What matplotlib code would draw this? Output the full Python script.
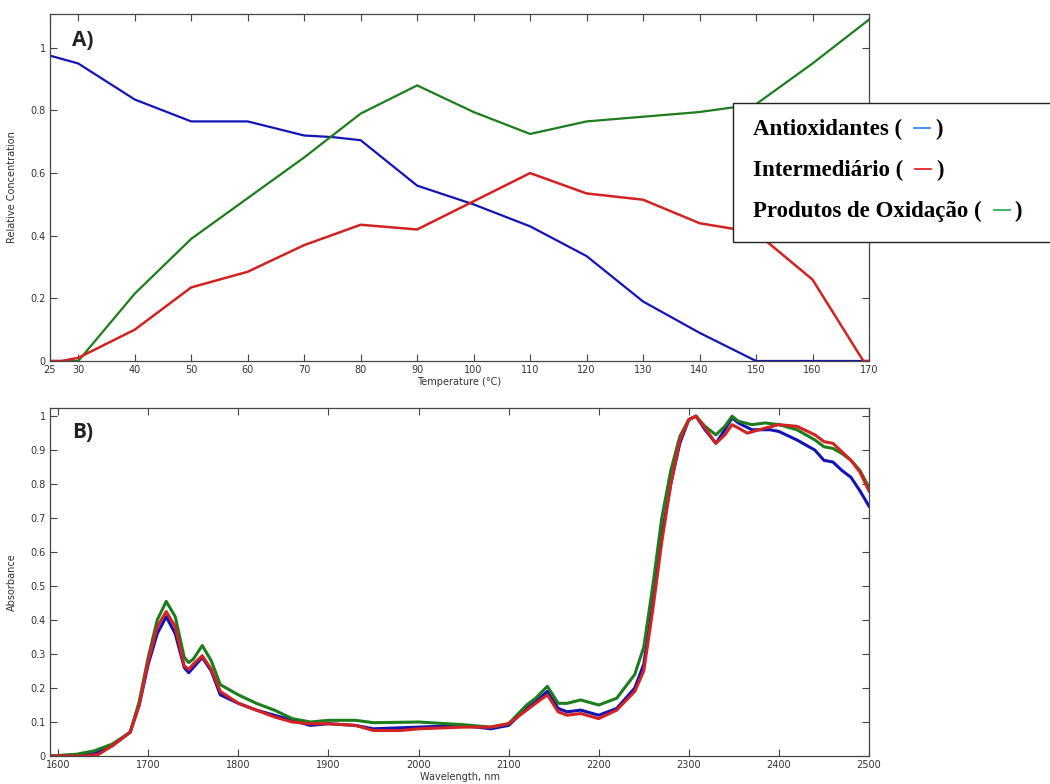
import matplotlib.pyplot as plt
from matplotlib.patches import Rectangle
from matplotlib.lines import Line2D

# painel A - concentracao relativa
temp = [25, 30, 40, 50, 60, 70, 75, 80, 90, 100, 110, 120, 130, 140, 150, 160, 170]
antiox = [0.975, 0.95, 0.835, 0.765, 0.765, 0.72, 0.715, 0.705, 0.56, 0.50, 0.43, 0.335, 0.19, 0.09, 0.0, 0.0, 0.0]
produtos = [0.0, 0.0, 0.215, 0.39, 0.52, 0.65, 0.72, 0.79, 0.88, 0.795, 0.725, 0.765, 0.78, 0.795, 0.82, 0.95, 1.09]
temp_int = [25, 27, 30, 40, 50, 60, 70, 80, 90, 100, 110, 120, 130, 140, 150, 160, 169, 170]
intermed = [0.0, 0.0, 0.01, 0.10, 0.235, 0.285, 0.37, 0.435, 0.42, 0.51, 0.60, 0.535, 0.515, 0.44, 0.41, 0.26, 0.0, 0.0]

# painel B - espectros
wl_b = [1591, 1620, 1640, 1660, 1680, 1690, 1700, 1710, 1720, 1730, 1740, 1745, 1750, 1760, 1770, 1780,
        1800, 1820, 1840, 1860, 1880, 1900, 1930, 1950, 2000, 2050, 2080, 2100, 2120, 2130, 2143, 2155,
        2165, 2180, 2200, 2220, 2240, 2250, 2260, 2270, 2280, 2290, 2300, 2308, 2318, 2330, 2340, 2348,
        2355, 2370, 2390, 2400, 2420, 2440, 2450, 2460, 2470, 2480, 2490, 2500]
abs_blue = [0.0, 0.003, 0.008, 0.03, 0.07, 0.15, 0.27, 0.36, 0.41, 0.36, 0.26, 0.245, 0.26, 0.29, 0.25, 0.18,
            0.155, 0.135, 0.12, 0.105, 0.09, 0.095, 0.09, 0.08, 0.085, 0.09, 0.08, 0.09, 0.14, 0.16, 0.19, 0.14,
            0.13, 0.135, 0.12, 0.14, 0.2, 0.27, 0.45, 0.65, 0.8, 0.92, 0.99, 1.0, 0.96, 0.92, 0.96, 0.995,
            0.98, 0.96, 0.96, 0.955, 0.93, 0.9, 0.87, 0.865, 0.84, 0.82, 0.78, 0.735]
wl_g = [1591, 1620, 1640, 1660, 1680, 1690, 1700, 1710, 1720, 1730, 1740, 1745, 1750, 1760, 1770, 1780,
        1800, 1820, 1840, 1860, 1880, 1900, 1930, 1950, 2000, 2050, 2080, 2100, 2120, 2130, 2143, 2155,
        2165, 2180, 2200, 2220, 2240, 2250, 2260, 2270, 2280, 2290, 2300, 2308, 2318, 2330, 2340, 2348,
        2355, 2370, 2385, 2400, 2420, 2440, 2450, 2460, 2470, 2480, 2490, 2500]
abs_green = [0.0, 0.005, 0.015, 0.035, 0.07, 0.16, 0.29, 0.40, 0.455, 0.41, 0.29, 0.275, 0.285, 0.325, 0.28, 0.21,
             0.18, 0.155, 0.135, 0.11, 0.10, 0.105, 0.105, 0.098, 0.1, 0.092, 0.085, 0.095, 0.15, 0.17, 0.205, 0.155,
             0.155, 0.165, 0.15, 0.17, 0.24, 0.32, 0.5, 0.7, 0.84, 0.94, 0.99, 1.0, 0.97, 0.945, 0.97, 1.0,
             0.985, 0.975, 0.98, 0.975, 0.96, 0.93, 0.91, 0.905, 0.89, 0.87, 0.84, 0.79]
wl_r = [1591, 1630, 1645, 1660, 1680, 1690, 1700, 1710, 1720, 1730, 1740, 1745, 1750, 1760, 1770, 1780,
        1800, 1820, 1840, 1860, 1880, 1900, 1930, 1950, 1980, 2000, 2050, 2080, 2100, 2120, 2130, 2143,
        2155, 2165, 2180, 2200, 2220, 2240, 2250, 2260, 2270, 2280, 2290, 2300, 2308, 2318, 2330, 2340,
        2348, 2355, 2365, 2385, 2400, 2420, 2440, 2450, 2460, 2470, 2480, 2490, 2500]
abs_red = [0.0, 0.0, 0.005, 0.03, 0.07, 0.15, 0.28, 0.38, 0.425, 0.38, 0.265, 0.255, 0.27, 0.295, 0.255, 0.19,
           0.155, 0.135, 0.115, 0.10, 0.095, 0.095, 0.09, 0.075, 0.075, 0.08, 0.085, 0.085, 0.095, 0.135, 0.155, 0.18,
           0.13, 0.12, 0.125, 0.11, 0.135, 0.19, 0.25, 0.43, 0.63, 0.8, 0.93, 0.99, 1.0, 0.965, 0.92, 0.945,
           0.975, 0.965, 0.95, 0.965, 0.975, 0.97, 0.945, 0.925, 0.92, 0.895, 0.87, 0.835, 0.78]

legenda = ["Antioxidantes", "Intermediário", "Produtos de Oxidação"]

AZUL = '#1414b4'
VERDE = '#1c7d1c'
VERMELHO = '#d22222'
TICK_COR = '#333333'

fig = plt.figure(figsize=(10.5, 7.84), dpi=100)
W, H = 1050, 784

def eixo(x0, y0, x1, y1):
    ax = fig.add_axes([x0 / W, 1 - y1 / H, (x1 - x0) / W, (y1 - y0) / H])
    ax.tick_params(direction='in', top=True, right=True, length=5, width=0.8,
                   labelsize=7, labelcolor=TICK_COR, color='#444444', pad=3)
    for s in ax.spines.values():
        s.set_color('#444444')
        s.set_linewidth(0.9)
    return ax

# A)
ax1 = eixo(50, 14, 869, 361)
ax1.plot(temp, antiox, color=AZUL, lw=1.6)
ax1.plot(temp, produtos, color=VERDE, lw=1.6)
ax1.plot(temp_int, intermed, color=VERMELHO, lw=1.8)
ax1.set_xlim(25, 170)
ax1.set_ylim(0, 1.108)
ax1.set_xticks([25, 30, 40, 50, 60, 70, 80, 90, 100, 110, 120, 130, 140, 150, 160, 170])
ax1.set_yticks([0, 0.2, 0.4, 0.6, 0.8, 1])
ax1.set_yticklabels(['0', '0.2', '0.4', '0.6', '0.8', '1'])
ax1.set_xlabel('Temperature (°C)', fontsize=7, color=TICK_COR, labelpad=1)
ax1.set_ylabel('Relative Concentration', fontsize=7, color=TICK_COR, labelpad=10)
ax1.text(0.027, 0.955, 'A)', transform=ax1.transAxes, fontsize=15, fontweight='bold',
         color='#222222', va='top', family='Open Sans')

# B)
ax2 = eixo(50, 408, 869, 756)
ax2.plot(wl_b, abs_blue, color=AZUL, lw=2.2)
ax2.plot(wl_g, abs_green, color=VERDE, lw=2.2)
ax2.plot(wl_r, abs_red, color=VERMELHO, lw=2.2)
ax2.set_xlim(1591, 2500)
ax2.set_ylim(0, 1.024)
ax2.set_xticks([1600, 1700, 1800, 1900, 2000, 2100, 2200, 2300, 2400, 2500])
ax2.set_yticks([0, 0.1, 0.2, 0.3, 0.4, 0.5, 0.6, 0.7, 0.8, 0.9, 1])
ax2.set_yticklabels(['0', '0.1', '0.2', '0.3', '0.4', '0.5', '0.6', '0.7', '0.8', '0.9', '1'])
ax2.set_xlabel('Wavelength, nm', fontsize=7, color=TICK_COR, labelpad=1)
ax2.set_ylabel('Absorbance', fontsize=7, color=TICK_COR, labelpad=10)
ax2.text(0.027, 0.96, 'B)', transform=ax2.transAxes, fontsize=15, fontweight='bold',
         color='#222222', va='top', family='Open Sans')

# caixa da legenda (sai da figura pela direita)
fig.patches.append(Rectangle((733 / W, 1 - 242 / H), 330 / W, 139 / H, transform=fig.transFigure,
                             facecolor='white', edgecolor='#222222', lw=1.0, zorder=10))
cores_leg = ['#2a8cf0', '#e8242a', '#2cb050']
ys = [129, 170, 211]
fig.canvas.draw()
rend = fig.canvas.get_renderer()
for nome, c, y in zip(legenda, cores_leg, ys):
    t = fig.text(753 / W, 1 - y / H, nome + ' (', fontsize=16.5, fontweight='bold',
                 family='Liberation Serif', va='center', ha='left', zorder=11)
    x = t.get_window_extent(renderer=rend).x1
    yd = 1 - (y - 1) / H
    fig.add_artist(Line2D([(x + 12) / W, (x + 28) / W], [yd, yd], color=c, lw=1.3,
                          transform=fig.transFigure, zorder=11))
    fig.text((x + 33) / W, 1 - y / H, ')', fontsize=16.5, fontweight='bold',
             family='Liberation Serif', va='center', ha='left', zorder=11)

fig.savefig('out.png', dpi=100)
